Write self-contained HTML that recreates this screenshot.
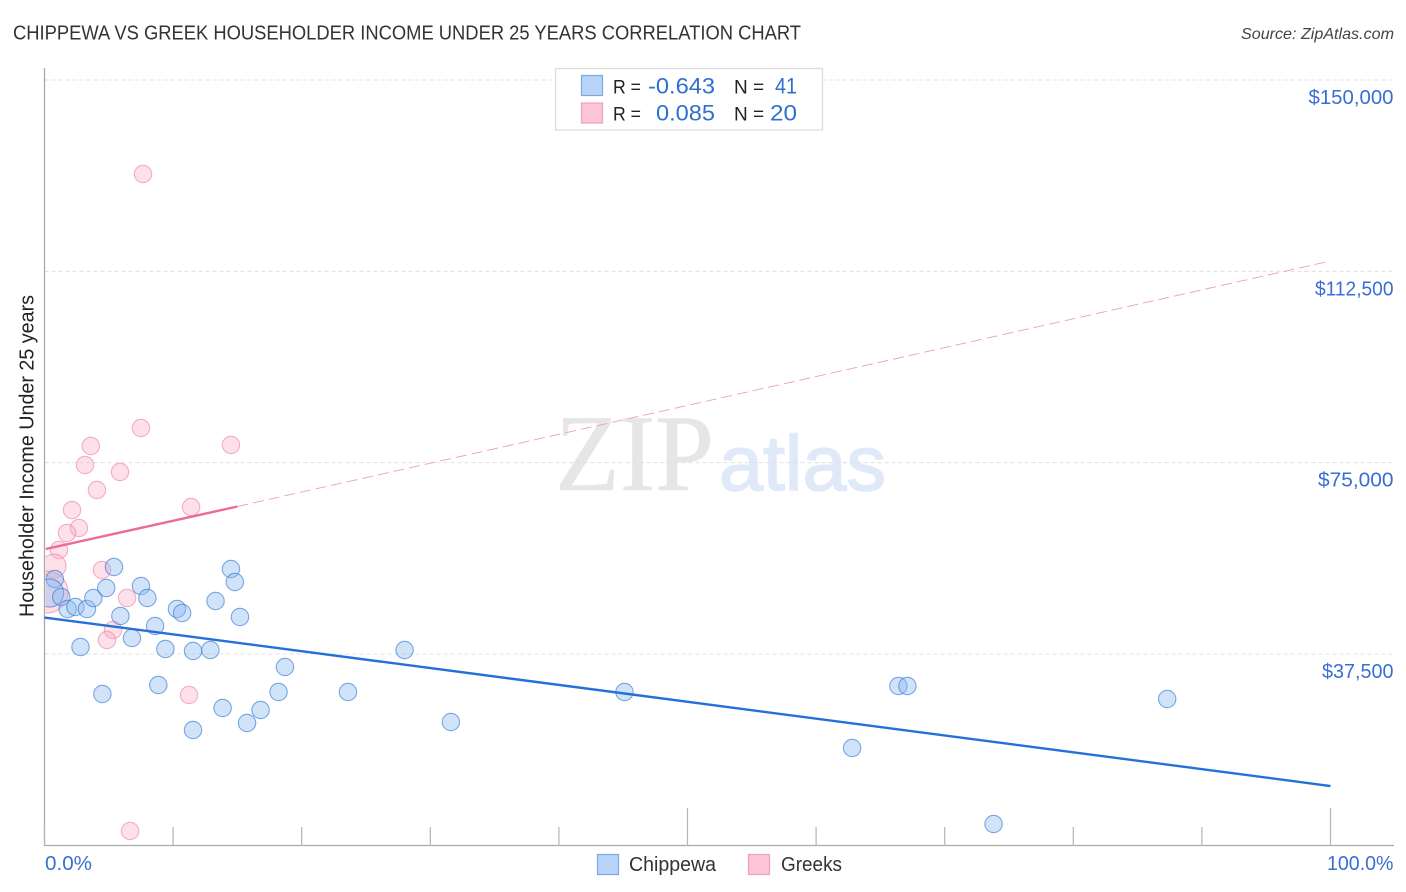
<!DOCTYPE html>
<html lang="en">
<head>
<meta charset="utf-8">
<title>Chippewa vs Greek Householder Income Under 25 Years Correlation Chart</title>
<style>
html,body{margin:0;padding:0;background:#fff;width:1406px;height:892px;overflow:hidden}
svg{display:block;font-family:"Liberation Sans",sans-serif}
</style>
</head>
<body>
<svg id="chart" xmlns="http://www.w3.org/2000/svg" width="1406" height="892" viewBox="0 0 1406 892">
  <defs><clipPath id="plot-clip"><rect x="45.5" y="60" width="1350" height="786"/></clipPath></defs>
  <text x="13" y="39.5" font-size="20" fill="#333" textLength="788" lengthAdjust="spacingAndGlyphs">CHIPPEWA VS GREEK HOUSEHOLDER INCOME UNDER 25 YEARS CORRELATION CHART</text>
  <text x="1241" y="39" font-size="16" font-style="italic" fill="#444" textLength="153" lengthAdjust="spacingAndGlyphs">Source: ZipAtlas.com</text>
  <g>
    <text x="555" y="490" font-family="'Liberation Serif',serif" font-size="109" fill="#e6e6e6" stroke="#e6e6e6" stroke-width="0.6" textLength="159" lengthAdjust="spacingAndGlyphs">ZIP</text>
    <text x="719" y="490" font-size="78" fill="#dfe9f8" stroke="#dfe9f8" stroke-width="1.5" textLength="167" lengthAdjust="spacingAndGlyphs">atlas</text>
  </g>
  <g id="grid"></g>
  <g id="axes"></g>
  <g id="marks" clip-path="url(#plot-clip)"></g>
  <g id="trends"></g>
  <text transform="translate(33.5,617) rotate(-90)" font-size="20" fill="#222" textLength="322" lengthAdjust="spacingAndGlyphs">Householder Income Under 25 years</text>

  <g>
    <rect x="555.5" y="68.5" width="267" height="61.5" fill="#fff" stroke="#ddd" stroke-width="1.3"/>
    <rect x="581.5" y="75.5" width="21" height="20" fill="#b8d4f8" stroke="#7aa8e2" stroke-width="1.2"/>
    <rect x="581.5" y="103" width="21" height="20" fill="#fcc6d8" stroke="#f0a0ba" stroke-width="1.2"/>
    <text x="613" y="93.5" font-size="19" fill="#222" textLength="28" lengthAdjust="spacingAndGlyphs">R =</text>
    <text x="648" y="93.5" font-size="22" fill="#2f6fd0" textLength="67" lengthAdjust="spacingAndGlyphs">-0.643</text>
    <text x="734" y="93.5" font-size="19" fill="#222">N =</text>
    <text x="775" y="93.5" font-size="22" fill="#2f6fd0" textLength="22" lengthAdjust="spacingAndGlyphs">41</text>
    <text x="613" y="120.5" font-size="19" fill="#222" textLength="28" lengthAdjust="spacingAndGlyphs">R =</text>
    <text x="656" y="120.5" font-size="22" fill="#2f6fd0" textLength="59" lengthAdjust="spacingAndGlyphs">0.085</text>
    <text x="734" y="120.5" font-size="19" fill="#222">N =</text>
    <text x="770" y="120.5" font-size="22" fill="#2f6fd0" textLength="27" lengthAdjust="spacingAndGlyphs">20</text>
  </g>

  <g>
    <rect x="597.5" y="854.5" width="21" height="20" fill="#b8d4f8" stroke="#7aa8e2" stroke-width="1.2"/>
    <text x="629" y="871" font-size="20" fill="#333" textLength="87" lengthAdjust="spacingAndGlyphs">Chippewa</text>
    <rect x="748.5" y="854.5" width="21" height="20" fill="#fcc6d8" stroke="#f0a0ba" stroke-width="1.2"/>
    <text x="781" y="871" font-size="20" fill="#333" textLength="61" lengthAdjust="spacingAndGlyphs">Greeks</text>
  </g>
</svg>
<script>
const yTickValues = [150000, 112500, 75000, 37500];
const yTickLabels = ["$150,000", "$112,500", "$75,000", "$37,500"];
const xTickValues = [0, 10, 20, 30, 40, 50, 60, 70, 80, 90, 100];
const xEndLabels = ["0.0%", "100.0%"];

const chippewaX = [0.8,0.4,1.3,1.8,2.4,3.3,3.8,4.8,5.4,7.5,8.0,5.9,8.6,6.8,2.8,9.4,11.55,12.9,10.3,10.7,13.3,14.5,14.8,15.2,4.5,8.85,13.85,11.55,15.75,16.8,18.2,18.7,23.6,28.0,31.6,45.1,66.4,67.1,62.8,87.3,73.8];
const chippewaY = [52196,49452,48668,46316,46708,46316,48472,50432,54548,50824,48472,44944,42984,40632,38868,38476,38084,38280,46316,45532,47884,54156,51608,44748,29656,31420,26912,22600,23972,26520,30048,34948,30048,38280,24168,30048,31224,31224,19072,28676,4176];
const chippewaWeight = [1,2.6,1,1,1,1,1,1,1,1,1,1,1,1,1,1,1,1,1,1,1,1,1,1,1,1,1,1,1,1,1,1,1,1,1,1,1,1,1,1,1];

const greeksX = [7.66,7.5,3.6,3.15,14.5,4.08,5.87,11.4,2.14,2.68,1.75,1.13,0.74,4.47,6.42,5.33,4.86,11.24,6.65,0.2];
const greeksY = [131576,81792,78264,74540,78460,69640,73168,66308,65720,62192,61212,57880,54744,53960,48472,42200,40240,29460,2804,49648];
const greeksWeight = [1,1,1,1,1,1,1,1,1,1,1,1,1.9,1,1,1,1,1,1,5.8];

const chippewaTrendX = [0, 100];
const chippewaTrendY = [44650, 11624];
const greeksTrendX = [0.1, 15];
const greeksTrendY = [58076, 66406];
const greeksExtendedX = [15, 100];
const greeksExtendedY = [66406, 114524];

const NS = "http://www.w3.org/2000/svg";
const xScale = function (p) { return 44.5 + p * 12.86; };
const yScale = function (v) { return 80 + (150000 - v) * 191.33 / 37500; };
const make = function (parent, tag) {
  const el = document.createElementNS(NS, tag);
  parent.appendChild(el);
  return el;
};
const setAll = function (el, attrs) {
  for (const k in attrs) { el.setAttribute(k, attrs[k]); }
};

const grid = document.getElementById("grid");
const axes = document.getElementById("axes");
const marks = document.getElementById("marks");
const trends = document.getElementById("trends");

yTickValues.forEach(function (v, i) {
  const line = make(grid, "line");
  
  
  setAll(line, {x1: 44.5, x2: 1394, y1: yScale(v), y2: yScale(v), stroke: "#e0e0e0", "stroke-width": 1, "stroke-dasharray": "4 3"});
  const label = make(axes, "text");
  
  
  const chars = yTickLabels[i].length;
  setAll(label, {x: 1393.5, y: yScale(v) + 24, "font-size": 20, fill: "#3a6fd2", "text-anchor": "end", textLength: chars === 8 && v === 150000 ? 85 : chars === 8 ? 78.5 : v === 75000 ? 75.5 : 71.5, lengthAdjust: "spacingAndGlyphs"});
  label.textContent = yTickLabels[i];
});

const yAxis = make(axes, "line");


setAll(yAxis, {x1: 44.5, x2: 44.5, y1: 68, y2: 846, stroke: "#aaa", "stroke-width": 1.3});

const xAxis = make(axes, "line");


setAll(xAxis, {x1: 44, x2: 1394, y1: 845.5, y2: 845.5, stroke: "#aaa", "stroke-width": 1.3});

xTickValues.forEach(function (p) {
  const tick = make(axes, "line");
  
  
  const tall = p === 50 || p === 100;
  setAll(tick, {x1: xScale(p), x2: xScale(p), y1: tall ? 808 : 827, y2: 846, stroke: "#b5b5b5", "stroke-width": 1.2});
});

const leftLabel = make(axes, "text");


setAll(leftLabel, {x: 45, y: 870, "font-size": 20, fill: "#3a6fd2", textLength: 47, lengthAdjust: "spacingAndGlyphs"});
leftLabel.textContent = xEndLabels[0];

const rightLabel = make(axes, "text");


setAll(rightLabel, {x: 1327, y: 870, "font-size": 20, fill: "#3a6fd2", textLength: 66.5, lengthAdjust: "spacingAndGlyphs"});
rightLabel.textContent = xEndLabels[1];

greeksX.forEach(function (p, i) {
  const c = make(marks, "circle");
  
  
  setAll(c, {cx: xScale(p), cy: yScale(greeksY[i]), r: 8.7 * Math.sqrt(greeksWeight[i]), fill: "rgba(250,170,195,0.36)", stroke: "rgba(238,130,165,0.62)", "stroke-width": 1.1});
});

chippewaX.forEach(function (p, i) {
  const c = make(marks, "circle");
  
  
  setAll(c, {cx: xScale(p), cy: yScale(chippewaY[i]), r: 8.7 * Math.sqrt(chippewaWeight[i]), fill: "rgba(140,185,240,0.4)", stroke: "rgba(50,120,210,0.62)", "stroke-width": 1.1});
});

const greeksDash = make(trends, "line");


setAll(greeksDash, {x1: xScale(greeksExtendedX[0]), y1: yScale(greeksExtendedY[0]), x2: xScale(greeksExtendedX[1]), y2: yScale(greeksExtendedY[1]), stroke: "#eda0b8", "stroke-width": 0.9, "stroke-dasharray": "11 5"});

const greeksLine = make(trends, "line");


setAll(greeksLine, {x1: xScale(greeksTrendX[0]), y1: yScale(greeksTrendY[0]), x2: xScale(greeksTrendX[1]), y2: yScale(greeksTrendY[1]), stroke: "#ec6c98", "stroke-width": 2.4});

const chippewaLine = make(trends, "line");


setAll(chippewaLine, {x1: xScale(chippewaTrendX[0]), y1: yScale(chippewaTrendY[0]), x2: xScale(chippewaTrendX[1]), y2: yScale(chippewaTrendY[1]), stroke: "#2470d8", "stroke-width": 2.4});
</script>
</body>
</html>
